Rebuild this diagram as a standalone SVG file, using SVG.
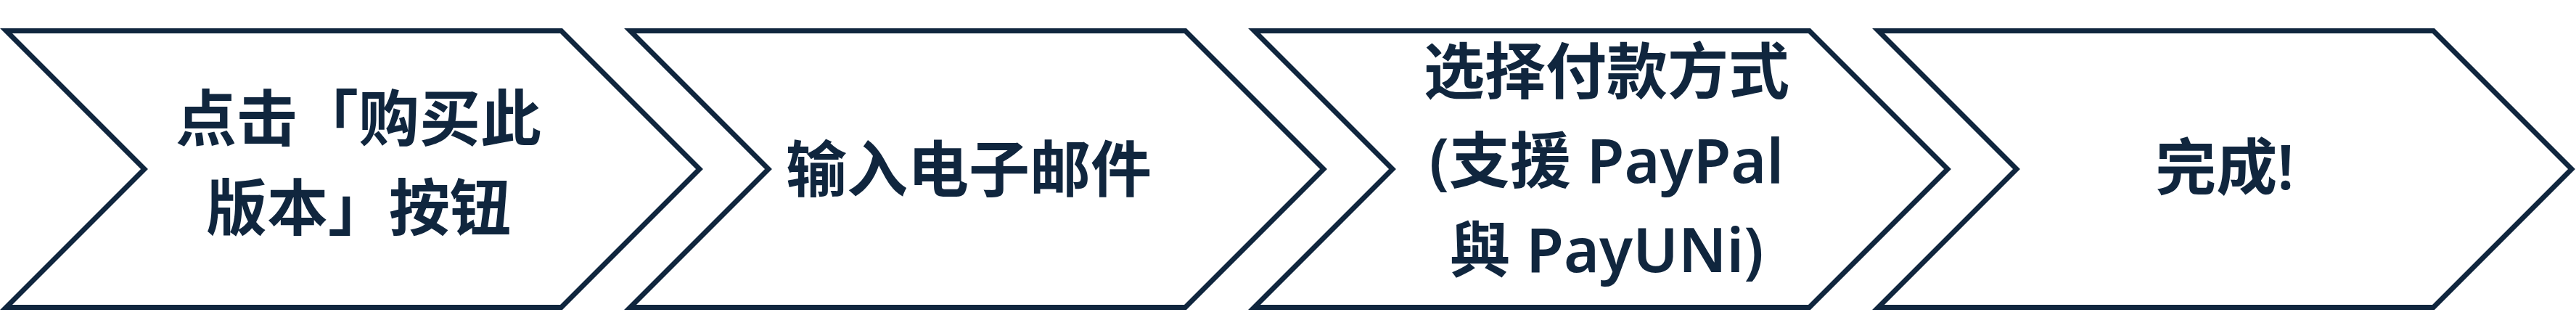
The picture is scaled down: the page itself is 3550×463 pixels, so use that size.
<svg xmlns="http://www.w3.org/2000/svg" width="3550" height="463" viewBox="0 0 3550 463">
<style>
.chev{fill:#ffffff;stroke:#10263e;stroke-width:7;stroke-linejoin:miter;stroke-miterlimit:10}
.lbl{font-family:"Noto Sans","Noto Sans CJK SC",sans-serif;font-size:84px;font-weight:600;fill:#10263e;text-anchor:middle}
</style>
<defs>
<polygon id="chevron" points="0,42.5 765,42.5 955.5,233 765,423.5 0,423.5 190.5,233"/>
</defs>
<rect width="3550" height="463" fill="#ffffff"/>
<g id="step1">
<use href="#chevron" class="chev" x="8.5"/>
<text class="lbl" x="494" y="194">点击「购买此</text>
<text class="lbl" x="494" y="317">版本」按钮</text>
</g>
<g id="step2">
<use href="#chevron" class="chev" x="868.5"/>
<text class="lbl" x="1335" y="264">输入电子邮件</text>
</g>
<g id="step3">
<use href="#chevron" class="chev" x="1728.5"/>
<text class="lbl" x="2214" y="129">选择付款方式</text>
<text class="lbl" x="2214" y="252">(支援 PayPal</text>
<text class="lbl" x="2214" y="375">與 PayUNi)</text>
</g>
<g id="step4">
<use href="#chevron" class="chev" x="2588.5"/>
<text class="lbl" x="3066" y="261">完成!</text>
</g>
<g id="connectors"></g>
</svg>
